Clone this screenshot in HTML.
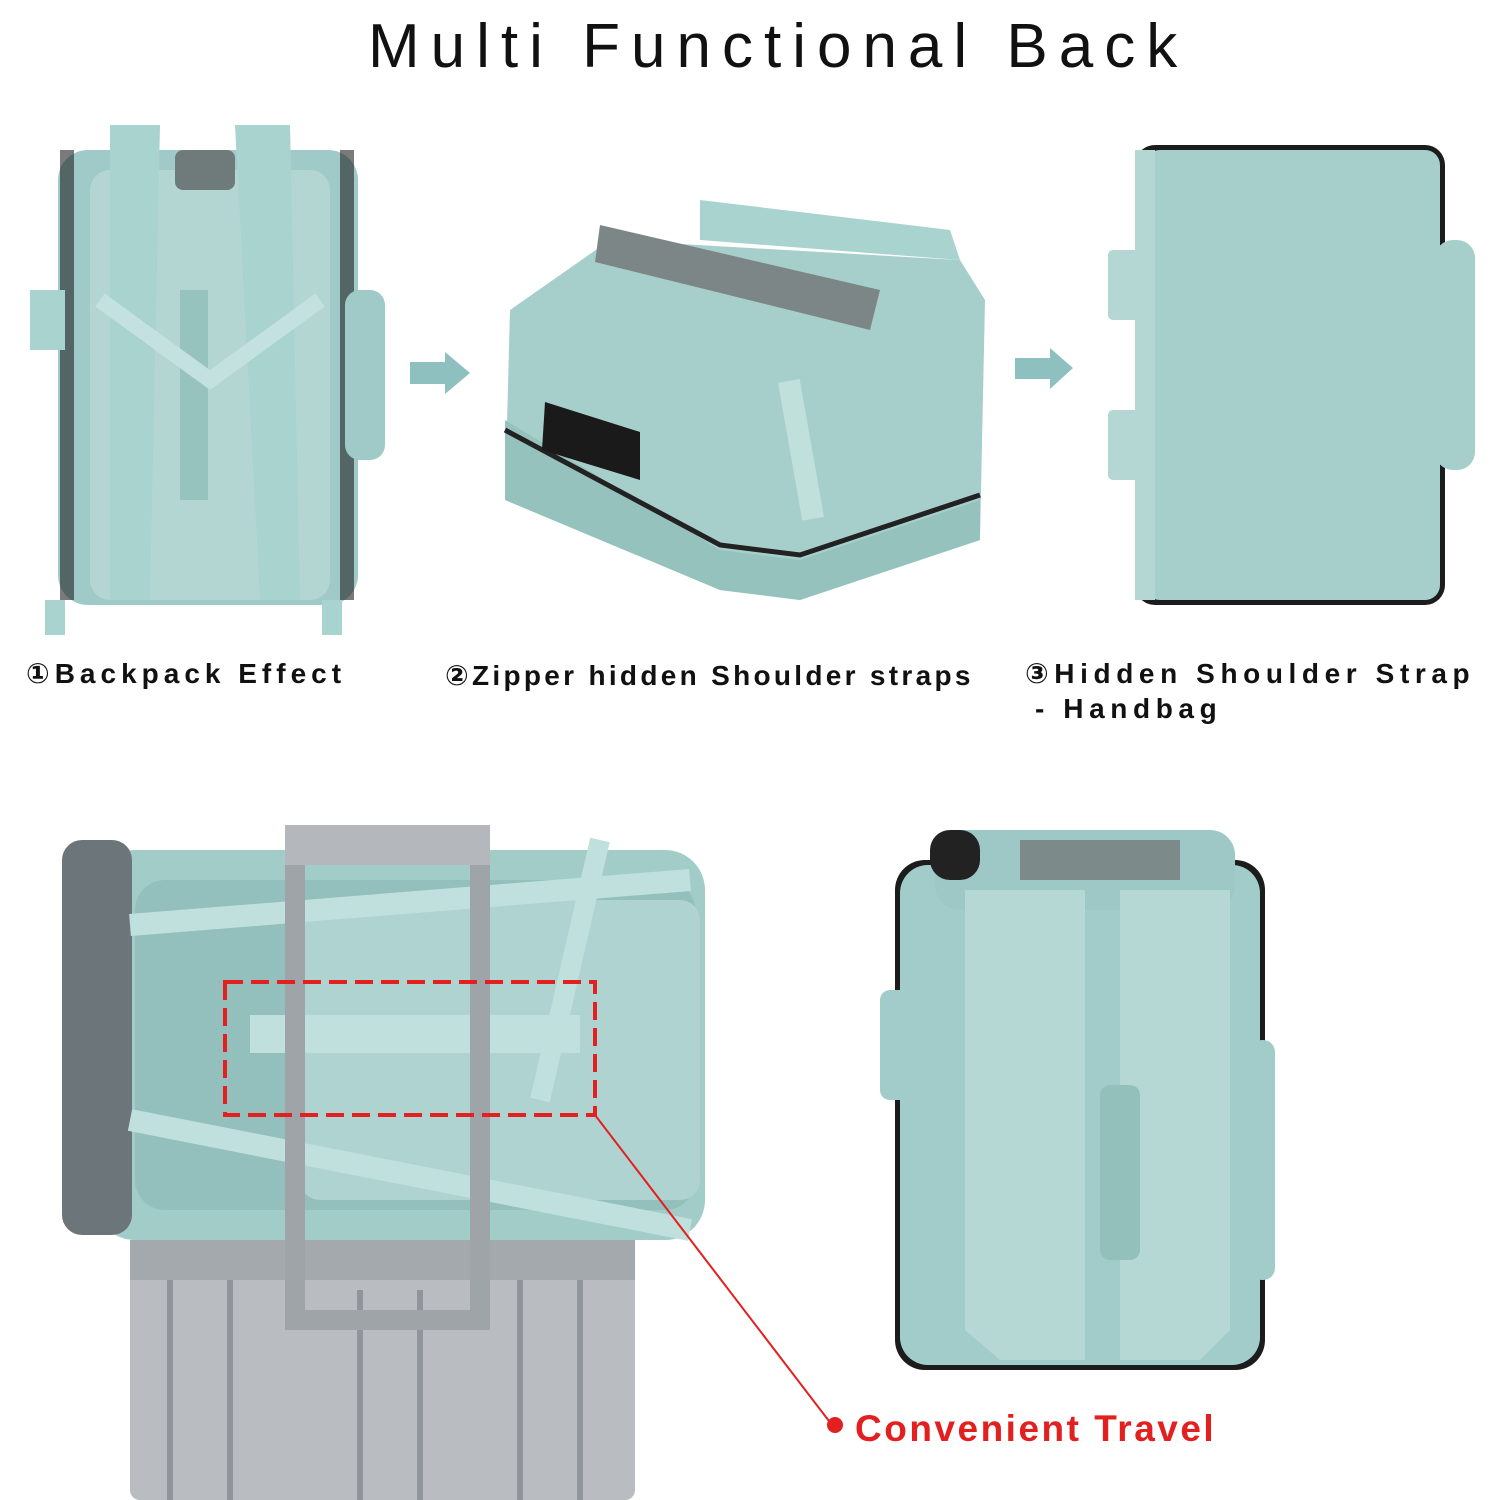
<!DOCTYPE html>
<html><head><style>
html,body{margin:0;padding:0;background:#fff;}
svg{display:block}
</style></head><body>
<svg width="1500" height="1500" viewBox="0 0 1500 1500" xmlns="http://www.w3.org/2000/svg">
<rect width="1500" height="1500" fill="#fff"/>
<text x="368" y="67" font-family="Liberation Sans, sans-serif" font-size="62" letter-spacing="11" fill="#111">Multi Functional Back</text>

<!-- Backpack 1 -->
<g>
<rect x="58" y="150" width="300" height="455" rx="30" fill="#9fcac7"/>
<rect x="60" y="150" width="14" height="450" fill="#222" opacity="0.6"/>
<rect x="340" y="150" width="14" height="450" fill="#222" opacity="0.6"/>
<rect x="90" y="170" width="240" height="430" rx="20" fill="#b3d6d3"/>
<rect x="175" y="150" width="60" height="40" rx="8" fill="#6f7b7b"/>
<path d="M110 125 L160 125 L150 600 L110 600 Z" fill="#a9d3cf"/>
<path d="M235 125 L290 125 L300 600 L260 600 Z" fill="#a9d3cf"/>
<rect x="180" y="290" width="28" height="210" fill="#97c3bf"/>
<path d="M100 300 L210 380 L320 300" stroke="#c3e2df" stroke-width="16" fill="none"/>
<rect x="45" y="600" width="20" height="35" fill="#a9d3cf"/>
<rect x="322" y="600" width="20" height="35" fill="#a9d3cf"/>
<rect x="30" y="290" width="35" height="60" fill="#a9d3cf"/>
<rect x="345" y="290" width="40" height="170" rx="15" fill="#9fcac7"/>
</g>

<!-- arrows -->
<path d="M410 362 L445 362 L445 352 L470 373 L445 394 L445 384 L410 384 Z" fill="#8fc0c0"/>
<path d="M1015 358 L1050 358 L1050 348 L1073 368 L1050 389 L1050 379 L1015 379 Z" fill="#8fc0c0"/>

<!-- Backpack 2 -->
<g>
<path d="M510 310 L610 240 L960 260 L985 300 L980 540 L800 600 L720 590 L505 500 Z" fill="#a6cfcb"/>
<path d="M505 420 L505 500 L720 590 L800 600 L980 540 L980 500 L800 560 L720 550 Z" fill="#96c2be"/>
<path d="M505 430 L720 545 L800 555 L980 495" stroke="#222" stroke-width="5" fill="none"/>
<path d="M600 225 L880 290 L870 330 L595 262 Z" fill="#7d8686"/>
<path d="M700 200 L950 230 L960 260 L700 240 Z" fill="#a9d3cf"/>
<path d="M545 402 L640 432 L640 480 L542 450 Z" fill="#1a1a1a"/>
<rect x="790" y="380" width="22" height="140" fill="#c0e0dc" transform="rotate(-10 800 450)"/>
</g>

<!-- Backpack 3 -->
<g>
<rect x="1135" y="145" width="310" height="460" rx="20" fill="#1c1c1c"/>
<rect x="1145" y="150" width="295" height="450" rx="15" fill="#a6cfcc"/>
<rect x="1135" y="150" width="20" height="450" fill="#b4d7d4"/>
<rect x="1108" y="250" width="32" height="70" rx="5" fill="#b4d7d4"/>
<rect x="1108" y="410" width="32" height="70" rx="5" fill="#b4d7d4"/>
<rect x="1435" y="240" width="40" height="230" rx="18" fill="#a6cfcc"/>
</g>

<g font-family="Liberation Sans, DejaVu Sans, sans-serif" font-weight="bold" font-size="28" fill="#111">
<text x="26" y="683" letter-spacing="5">①Backpack Effect</text>
<text x="445" y="685" letter-spacing="3.3">②Zipper hidden Shoulder straps</text>
<text x="1025" y="683" letter-spacing="5.6">③Hidden Shoulder Strap</text>
<text x="1035" y="718" letter-spacing="5.6"> - Handbag</text>
</g>

<!-- Bottom-left backpack on suitcase -->
<g>
<rect x="130" y="1240" width="505" height="260" rx="10" fill="#b9bdc1"/>
<g stroke="#8f959b" stroke-width="6">
<line x1="170" y1="1280" x2="170" y2="1500"/><line x1="230" y1="1280" x2="230" y2="1500"/>
<line x1="360" y1="1290" x2="360" y2="1500"/><line x1="420" y1="1290" x2="420" y2="1500"/>
<line x1="520" y1="1280" x2="520" y2="1500"/><line x1="580" y1="1280" x2="580" y2="1500"/>
</g>
<rect x="130" y="1240" width="505" height="40" fill="#a4a9ae"/>
<rect x="95" y="850" width="610" height="390" rx="40" fill="#a2ccc8"/>
<rect x="135" y="880" width="560" height="330" rx="30" fill="#93c0bc"/>
<rect x="300" y="900" width="400" height="300" rx="20" fill="#aed3d0"/>
<rect x="62" y="840" width="70" height="395" rx="20" fill="#6c7579"/>
<path d="M130 925 L690 880" stroke="#bfe0dc" stroke-width="22"/>
<path d="M130 1120 L690 1230" stroke="#bfe0dc" stroke-width="22"/>
<path d="M600 840 L540 1100" stroke="#bfe0dc" stroke-width="20"/>
<rect x="250" y="1015" width="330" height="38" fill="#bfe0dc"/>
<path d="M285 830 L285 1330 L490 1330 L490 830 Z M305 850 L470 850 L470 1310 L305 1310 Z" fill="#9fa4a8" fill-rule="evenodd"/>
<rect x="285" y="825" width="205" height="40" fill="#b4b8bc"/>
<rect x="225" y="982" width="370" height="133" fill="none" stroke="#e32020" stroke-width="4" stroke-dasharray="18 8"/>
<line x1="595" y1="1115" x2="832" y2="1425" stroke="#e32020" stroke-width="2"/>
<circle cx="835" cy="1425" r="8" fill="#e32020"/>
<text x="855" y="1441" font-family="Liberation Sans, sans-serif" font-weight="bold" font-size="37" fill="#e32020" letter-spacing="2.5">Convenient Travel</text>
</g>

<!-- Bottom-right backpack -->
<g>
<rect x="895" y="860" width="370" height="510" rx="30" fill="#1c1c1c"/>
<rect x="900" y="865" width="360" height="500" rx="28" fill="#a2ccc9"/>
<rect x="935" y="830" width="300" height="80" rx="25" fill="#9ec8c5"/>
<rect x="930" y="830" width="50" height="50" rx="20" fill="#222"/>
<path d="M965 890 L1085 890 L1085 1360 L1000 1360 L965 1330 Z" fill="#b6d8d5"/>
<path d="M1120 890 L1230 890 L1230 1330 L1200 1360 L1120 1360 Z" fill="#b6d8d5"/>
<rect x="1100" y="1085" width="40" height="175" rx="10" fill="#94c0bc"/>
<rect x="1020" y="840" width="160" height="40" fill="#7d8a8a"/>
<rect x="880" y="990" width="30" height="110" rx="10" fill="#a2ccc9"/>
<rect x="1250" y="1040" width="25" height="240" rx="12" fill="#a2ccc9"/>
</g>
</svg>
</body></html>
